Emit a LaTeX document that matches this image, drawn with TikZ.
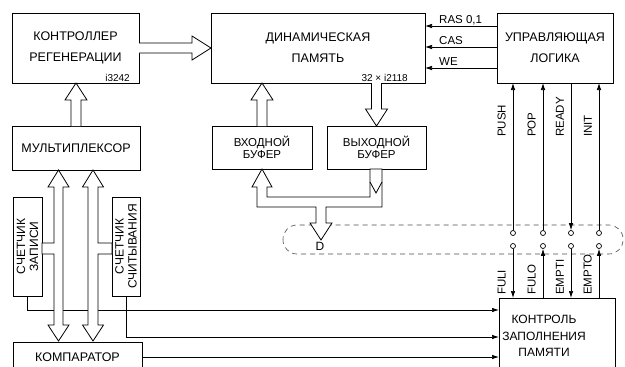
\documentclass[tikz,border=0pt]{standalone}
\usepackage{fontspec}
\setmainfont{Liberation Sans}
\usetikzlibrary{arrows.meta,calc}

\tikzset{
  box/.style={draw, line width=0.9pt, inner sep=0pt, outer sep=0pt, align=center,
    font=\fontsize{12.5}{21}\selectfont},
  sig/.style={line width=0.7pt, -{Latex[length=7pt,width=4.5pt]}},
  bus/.style={draw, line width=0.8pt, fill=white, line join=miter},
  jack/.style={circle, draw, line width=0.7pt, fill=white, inner sep=0pt, minimum size=5pt},
  siglabel/.style={font=\fontsize{11.5}{12}\selectfont, inner sep=0pt},
  vlabel/.style={font=\fontsize{11.5}{12}\selectfont, rotate=90, anchor=south west, inner sep=0pt},
  tag/.style={font=\fontsize{10}{10}\selectfont, inner sep=0pt},
  dbus/.style={line width=0.6pt, black!70, dash pattern=on 5pt off 4pt, rounded corners=14pt},
}

% hollow bus arrows between two anchors
\newcommand\busup[2]{%
  \draw[bus] let \p1=(#1), \p2=(#2) in
    (\x1-5pt,\y1) -- (\x1-5pt,\y2-17pt) -- (\x1-11pt,\y2-17pt) -- (\x1,\y2)
    -- (\x1+11pt,\y2-17pt) -- (\x1+5pt,\y2-17pt) -- (\x1+5pt,\y1);}
\newcommand\busdown[2]{%
  \draw[bus] let \p1=(#1), \p2=(#2) in
    (\x1-5pt,\y1) -- (\x1-5pt,\y2+17pt) -- (\x1-11pt,\y2+17pt) -- (\x1,\y2)
    -- (\x1+11pt,\y2+17pt) -- (\x1+5pt,\y2+17pt) -- (\x1+5pt,\y1);}
\newcommand\busright[2]{%
  \draw[bus] let \p1=(#1), \p2=(#2) in
    (\x1,\y1+5pt) -- (\x2-19pt,\y1+5pt) -- (\x2-19pt,\y1+12pt) -- (\x2,\y1)
    -- (\x2-19pt,\y1-12pt) -- (\x2-19pt,\y1-5pt) -- (\x1,\y1-5pt);}

\begin{document}
\begin{tikzpicture}[x=1pt,y=-1pt]
  \useasboundingbox (0,0) rectangle (625,367);
  \clip (0,0) rectangle (625,367);

  % blocks
  \node[box, minimum width=127, minimum height=70] (ctrl) at (75.5,48) {КОНТРОЛЛЕР\\РЕГЕНЕРАЦИИ};
  \node[box, minimum width=214, minimum height=70] (mem) at (318,48) {ДИНАМИЧЕСКАЯ\\ПАМЯТЬ};
  \node[box, minimum width=116, minimum height=70] (logic) at (555,48) {УПРАВЛЯЮЩАЯ\\ЛОГИКА};
  \node[box, minimum width=128, minimum height=44] (mux) at (76,148) {МУЛЬТИПЛЕКСОР};
  \node[box, minimum width=100, minimum height=43, font=\fontsize{11.5}{11.5}\selectfont] (inbuf) at (262,147.5) {ВХОДНОЙ\\БУФЕР};
  \node[box, minimum width=99, minimum height=43, font=\fontsize{11.5}{11.5}\selectfont] (outbuf) at (376.5,147.5) {ВЫХОДНОЙ\\БУФЕР};
  \node[box, rotate=90, minimum width=99, minimum height=29, font=\fontsize{12}{13}\selectfont] (cntw) at (27.5,246.5) {СЧЕТЧИК\\ЗАПИСИ};
  \node[box, rotate=90, minimum width=99, minimum height=28, font=\fontsize{12}{13}\selectfont] (cntr) at (126,246.5) {СЧЕТЧИК\\СЧИТЫВАНИЯ};
  \node[box, minimum width=129, minimum height=30] (cmp) at (77.5,357) {КОМПАРАТОР};
  \node[box, minimum width=116, minimum height=78] (ctl) at (557,337) {};
  \node[font=\fontsize{12}{16.5}\selectfont, align=center] (ctltext) at (544,336) {КОНТРОЛЬ\\ЗАПОЛНЕНИЯ\\ПАМЯТИ};

  \node[tag, anchor=base east] (ctrltag) at ([shift={(-9pt,2pt)}]ctrl.south east) {i3242};
  \node[tag, anchor=base east] (memtag) at ([shift={(-17pt,2pt)}]mem.south east) {32 × i2118};

  % data bus loop
  \draw[dbus] (283,225) rectangle (623,254);
  \node[font=\fontsize{12}{12}\selectfont] (dlabel) at (320,246.5) {D};

  % control lines to memory
  \coordinate (ras) at (0,26);
  \coordinate (cas) at (0,47);
  \coordinate (we) at (0,68);
  \draw[sig] (logic.west |- ras) -- (mem.east |- ras);
  \draw[sig] (logic.west |- cas) -- (mem.east |- cas);
  \draw[sig] (logic.west |- we) -- (mem.east |- we);
  \node[siglabel, anchor=base west] at (439,23) {RAS 0,1};
  \node[siglabel, anchor=base west] at (439,44) {CAS};
  \node[siglabel, anchor=base west] at (439,65) {WE};

  % lines to the fill control
  \coordinate (lw) at (0,310);
  \coordinate (lr) at (0,337);
  \draw[sig] (cntw.west) |- (ctl.west |- lw);
  \draw[sig] (cntr.west) |- (ctl.west |- lr);
  \draw[sig] (cmp.east) -- (ctl.west |- cmp.east);

  % buses
  \busright{ctrl.east}{mem.west}
  \busup{mux.north}{ctrl.south}
  \busup{inbuf.north}{inbuf.north |- mem.south}
  \busdown{outbuf.north |- mem.south}{outbuf.north}
  \draw[bus] (58.5,170) -- (69,187) -- (63,187) -- (63,325) -- (69,325) -- (58.5,341)
    -- (48,325) -- (54,325) -- (54,254) -- (42,254) -- (42,243) -- (54,243)
    -- (54,187) -- (48,187) -- cycle;
  \draw[bus] (93,170) -- (103.5,187) -- (98,187) -- (98,243) -- (112,243) -- (112,254)
    -- (98,254) -- (98,325) -- (103.5,325) -- (93,341) -- (82.5,325) -- (88,325)
    -- (88,187) -- (82.5,187) -- cycle;
  \draw[bus] (262,169) -- (272,187) -- (267,187) -- (267,197) -- (370,197) -- (370,169)
    -- (382,169) -- (382,207) -- (326,207) -- (326,223) -- (332,223) -- (321,240)
    -- (310,223) -- (316,223) -- (316,207) -- (257,207) -- (257,187) -- (252,187) -- cycle;
  \draw[line width=0.8pt] (370,182) -- (376,193) -- (382,182);

  % status lines
  \foreach \nm/\xx/\txt in {push/513/PUSH, pop/543/POP, ready/571/READY, init/599/INIT}{
    \node[jack] (\nm) at (\xx,233) {};
    \node[vlabel] at (\xx-7,137) {\txt};
  }
  \foreach \nm/\xx/\txt in {fuli/513/FULI, fulo/543/FULO, empti/571/EMPTI, empto/599/EMPTO}{
    \node[jack] (\nm) at (\xx,246) {};
    \node[vlabel] at (\xx-7,295) {\txt};
  }
  \draw[sig] (push) -- (push |- logic.south);
  \draw[sig] (pop) -- (pop |- logic.south);
  \draw[sig] (ready |- logic.south) -- (ready);
  \draw[sig] (init) -- (init |- logic.south);
  \draw[sig] (fuli) -- (fuli |- ctl.north);
  \draw[sig] (fulo |- ctl.north) -- (fulo);
  \draw[sig] (empti) -- (empti |- ctl.north);
  \draw[sig] (empto |- ctl.north) -- (empto);
\end{tikzpicture}
\end{document}
